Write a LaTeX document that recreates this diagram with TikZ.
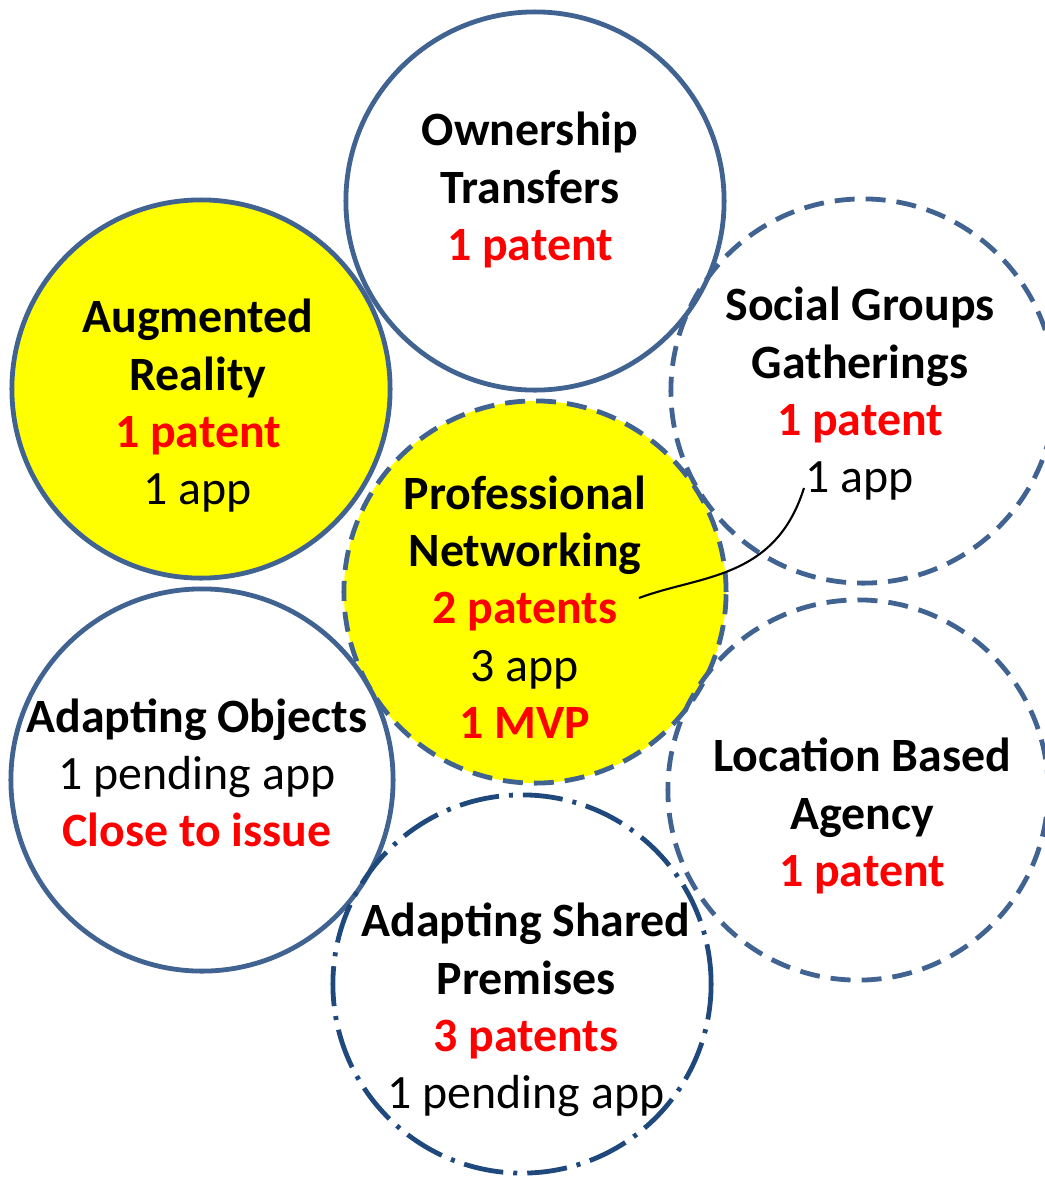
\documentclass[tikz,border=0pt]{standalone}
\usepackage{fontspec}
\setmainfont{Carlito}
\usepackage{xcolor}
\usepackage{tikz}
\usetikzlibrary{positioning}
\definecolor{ringblue}{RGB}{64,99,145}
\definecolor{ringnavy}{RGB}{31,73,125}
\definecolor{hiyellow}{RGB}{255,255,0}
\definecolor{hitred}{RGB}{255,0,0}
\newcommand{\hit}[1]{\textcolor{hitred}{\textbf{#1}}}

\begin{document}
\begin{tikzpicture}[x=0.01cm, y=-0.01cm, font=\fontsize{13.6}{16.3}\selectfont,
    ring/.style={circle, draw=ringblue, line width=0.048cm, minimum size=3.8cm, inner sep=0pt},
    dashring/.style={ring, dash pattern=on 0.2cm off 0.11cm},
    dotring/.style={ring, draw=ringnavy, dash pattern=on 0.4cm off 0.1cm on 0.04cm off 0.1cm},
    lbl/.style={align=center, inner sep=0pt}]
        \clip (0,0) rectangle (1045,1181);
        \node[ring, fill=hiyellow, minimum size=3.78cm] (augm) at (201,389) {};
        \node[dashring, fill=hiyellow, minimum size=3.82cm] (prof) at (535,592) {};
        \node[ring, minimum size=3.78cm] (owner) at (535,201) {};
        \node[dashring, minimum size=3.84cm] (social) at (863,391) {};
        \node[ring, minimum size=3.82cm] (objects) at (202,780) {};
        \node[dashring] (location) at (858,790) {};
        \node[dotring, minimum size=3.78cm] (premises) at (522,984) {};

        \node[lbl] (ownerT) at (530,190) {\textbf{Ownership}\\\textbf{Transfers}\\\hit{1 patent}};
        \node[lbl] (augmT) at (198,406) {\textbf{Augmented}\\\textbf{Reality}\\\hit{1 patent}\\1 app};
        \node[lbl] (socialT) at (860,394) {\textbf{Social Groups}\\\textbf{Gatherings}\\\hit{1 patent}\\1 app};
        \node[lbl] (profT) at (525,607) {\textbf{Professional}\\\textbf{Networking}\\\hit{2 patents}\\3 app\\\hit{1 MVP}};
        \node[lbl] (objectsT) at (197,773) {\textbf{Adapting Objects}\\1 pending app\\\hit{Close to issue}};
        \node[lbl] (locationT) at (862,816) {\textbf{Location Based}\\\textbf{Agency}\\\hit{1 patent}};
        \node[lbl] (premisesT) at (526,1010) {\textbf{Adapting Shared}\\\textbf{Premises}\\\hit{3 patents}\\1 pending app};

        \coordinate (appTip) at (804,488);
        \coordinate (patTip) at (639,598);
        \draw[semithick] (appTip) .. controls (775,580) and (700,575) .. (patTip);
      \end{tikzpicture}
\end{document}
